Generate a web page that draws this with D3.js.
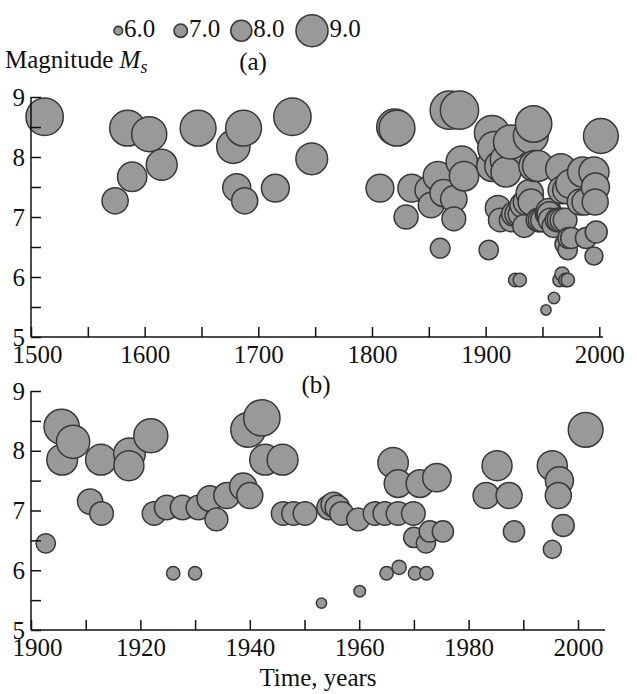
<!DOCTYPE html>
<html>
<head>
<meta charset="utf-8">
<script src="https://cdn.jsdelivr.net/npm/d3@7/dist/d3.min.js"></script>
<style>
  body { margin: 0; background: #fff; }
</style>
</head>
<body>
<div id="chart"></div>
<script>
var svgWidth = 637;
var svgHeight = 694;

// historical events before 1900 (panel a only)
var histYears = [1512, 1574, 1585, 1589, 1604, 1615, 1647, 1678, 1681, 1687, 1688, 1715, 1730, 1747,
    1807, 1820, 1822, 1830, 1835, 1850, 1852, 1858, 1860, 1863, 1868, 1872, 1872, 1877, 1879, 1881];
var histMags = [8.67, 7.27, 8.48, 7.67, 8.38, 7.87, 8.48, 8.17, 7.49, 8.48, 7.27, 7.48, 8.67, 7.97,
    7.48, 8.5, 8.48, 7.0, 7.48, 7.45, 7.2, 7.68, 6.48, 7.4, 8.78, 7.3, 6.97, 8.78, 7.92, 7.68];

// instrumental events 1900-2005 (both panels)
var instYears = [1902.7, 1905.6, 1905.7, 1907.7, 1910.8, 1912.8, 1912.9, 1918, 1917.9, 1921.9,
    1922.5, 1924.8, 1926, 1927.7, 1930, 1930.6, 1932.7, 1933.9, 1935.8, 1938.8,
    1939.7, 1940, 1942.2, 1942.8, 1946, 1946.1, 1948, 1950.1, 1953.1, 1954.5,
    1955.3, 1956, 1956.8, 1959.8, 1960.1, 1962.9, 1964.7, 1965, 1966.2, 1967.1,
    1967.1, 1967.3, 1969.9, 1970, 1970.2, 1971.1, 1972.2, 1972.3, 1972.9, 1974.2,
    1975.3, 1983.2, 1985.2, 1987.4, 1988.3, 1995.3, 1995.3, 1996.6, 1996.4, 1997.3, 2001.4];
var instMags = [6.45, 8.4, 7.85, 8.15, 7.15, 7.85, 6.95, 7.95, 7.75, 8.25,
    6.95, 7.05, 5.95, 7.05, 5.95, 7.05, 7.2, 6.85, 7.25, 7.4,
    8.35, 7.25, 8.55, 7.85, 7.85, 6.95, 6.95, 6.95, 5.45, 7.05,
    7.1, 7.05, 6.95, 6.85, 5.65, 6.95, 6.95, 5.95, 7.8, 7.45,
    6.95, 6.05, 6.95, 6.55, 5.95, 7.45, 6.45, 5.95, 6.65, 7.55,
    6.65, 7.25, 7.75, 7.25, 6.65, 7.75, 6.35, 7.5, 7.25, 6.75, 8.35];

var legendMags = [6.0, 7.0, 8.0, 9.0];

var hist = histYears.map((y, i) => ({ year: y, mag: histMags[i] }));
var inst = instYears.map((y, i) => ({ year: y, mag: instMags[i] }));

var serif = "'Liberation Serif', 'Times New Roman', 'DejaVu Serif', serif";
var fontSize = 25;

var svg = d3.select("#chart").append("svg")
    .attr("width", svgWidth)
    .attr("height", svgHeight)
    .style("font-family", serif);

var rScale = d3.scaleLinear().domain([5.4, 6, 6.5, 9]).range([5, 6.8, 10, 20]);
var legendR = d3.scaleLinear().domain([6, 7, 8, 9]).range([4.3, 6.7, 10.5, 16]);

function styleText(sel) {
    sel.style("font-family", serif)
        .style("font-size", fontSize + "px")
        .style("fill", "#111");
}

function drawPanel(opts) {
    var x = d3.scaleLinear().domain(opts.xDomain).range(opts.xRange);
    var y = d3.scaleLinear().domain([5, 9]).range(opts.yRange);
    var g = svg.append("g");

    // circles
    g.selectAll("circle")
        .data(opts.data)
        .enter()
        .append("circle")
        .attr("cx", d => x(d.year))
        .attr("cy", d => y(d.mag))
        .attr("r", d => rScale(d.mag))
        .attr("fill", "#999")
        .attr("stroke", "#383838")
        .attr("stroke-width", 1.5);

    // x axis
    var xAxis = d3.axisBottom(x)
        .tickValues(d3.range(opts.xDomain[0], opts.xDomain[1] + 1, opts.minorStep))
        .tickFormat(d => (d - opts.xDomain[0]) % opts.majorStep === 0 ? d : "")
        .tickSizeInner(-10)
        .tickSizeOuter(0)
        .tickPadding(8);
    var xg = g.append("g")
        .attr("transform", `translate(0, ${opts.yRange[0]})`)
        .call(xAxis)
        .attr("font-family", null)
        .attr("font-size", null);
    xg.select(".domain").remove();
    xg.selectAll("line").attr("stroke", "#111").attr("stroke-width", 1.5);
    xg.selectAll("text").call(styleText);
    xg.selectAll("text").filter(d => d === opts.xDomain[0]).attr("dx", 6);
    g.append("line")
        .attr("x1", opts.xRange[0]).attr("x2", opts.axisEnd)
        .attr("y1", opts.yRange[0]).attr("y2", opts.yRange[0])
        .attr("stroke", "#111").attr("stroke-width", 1.5);

    // y axis
    var yAxis = d3.axisLeft(y)
        .tickValues(d3.range(5, 9.01, 0.5))
        .tickFormat(d => d % 1 === 0 ? d : "")
        .tickSizeInner(-10)
        .tickSizeOuter(0)
        .tickPadding(6);
    var yg = g.append("g")
        .attr("transform", `translate(${opts.xRange[0]}, 0)`)
        .call(yAxis)
        .attr("font-family", null)
        .attr("font-size", null);
    yg.select(".domain").remove();
    yg.selectAll("line").attr("stroke", "#111").attr("stroke-width", 1.5);
    yg.selectAll("text").call(styleText);
    g.append("line")
        .attr("x1", opts.xRange[0]).attr("x2", opts.xRange[0])
        .attr("y1", opts.yRange[1]).attr("y2", opts.yRange[0])
        .attr("stroke", "#111").attr("stroke-width", 1.5);
}

// panel (a)
drawPanel({
    data: hist.concat(inst),
    xDomain: [1500, 2000], xRange: [31, 599.3], axisEnd: 603,
    yRange: [337, 97], minorStep: 50, majorStep: 100
});

// panel (b)
drawPanel({
    data: inst,
    xDomain: [1900, 2000], xRange: [31, 578], axisEnd: 605,
    yRange: [630, 391], minorStep: 10, majorStep: 20
});

// legend
var lx = [118.3, 180.7, 241.3, 312];
var legend = svg.append("g");
legendMags.forEach(function (m, i) {
    legend.append("circle")
        .attr("cx", lx[i]).attr("cy", 30.7)
        .attr("r", legendR(m))
        .attr("fill", "#999")
        .attr("stroke", "#383838")
        .attr("stroke-width", 1.6);
    legend.append("text")
        .attr("x", lx[i] + legendR(m) + 1.5)
        .attr("y", 37)
        .call(styleText)
        .text(m.toFixed(1));
});

// y title
var yt = svg.append("text")
    .attr("x", 5).attr("y", 68)
    .call(styleText);
yt.append("tspan").text("Magnitude ");
yt.append("tspan").style("font-style", "italic").text("M");
yt.append("tspan").style("font-style", "italic").attr("dy", 5)
    .style("font-size", "18px").text("s");

svg.append("text")
    .attr("x", 253).attr("y", 70)
    .attr("text-anchor", "middle")
    .call(styleText)
    .text("(a)");

svg.append("text")
    .attr("x", 316).attr("y", 393)
    .attr("text-anchor", "middle")
    .call(styleText)
    .text("(b)");

svg.append("text")
    .attr("x", 318).attr("y", 686)
    .attr("text-anchor", "middle")
    .call(styleText)
    .text("Time, years");
</script>
</body>
</html>
